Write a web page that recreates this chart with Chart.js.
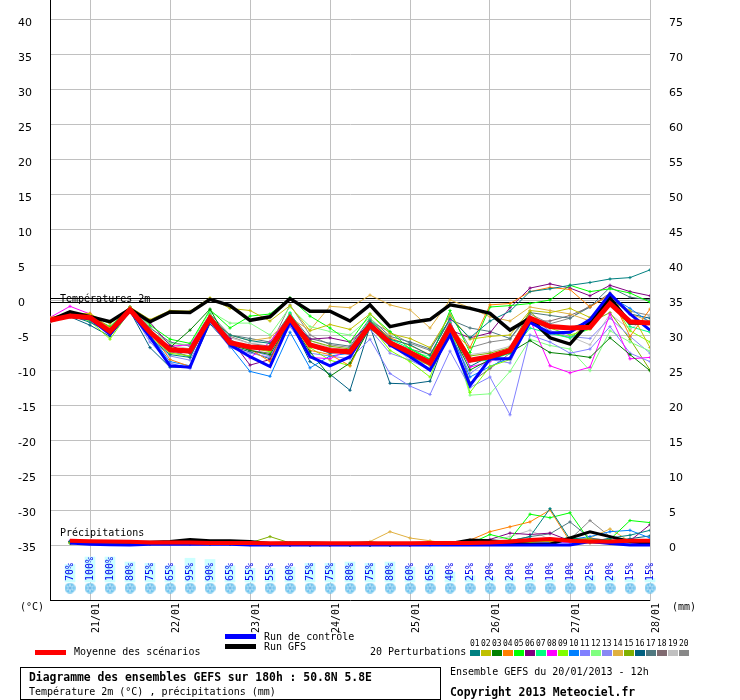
<!DOCTYPE html>
<html><head><meta charset="utf-8">
<script src="https://cdn.jsdelivr.net/npm/chart.js@4.4.1/dist/chart.umd.min.js"></script>
<style>
body{margin:0;background:#fff;}
#wrap{position:relative;width:740px;height:700px;overflow:hidden;font-family:"DejaVu Sans Mono",monospace;color:#000;background:#fff;}
canvas{position:absolute;left:0;top:0;}
.t{position:absolute;white-space:pre;font-size:10px;line-height:12px;}
.b{font-weight:bold;font-size:11.4px;line-height:14px;}
.bar{position:absolute;}
.sl{position:absolute;font-size:8px;line-height:10px;white-space:pre;}
</style></head><body><div id="wrap"><canvas id="c" width="740" height="700"></canvas></div>
<script>
// ---------- DATA ----------
const hours = [0,6,12,18,24,30,36,42,48,54,60,66,72,78,84,90,96,102,108,114,120,126,132,138,144,150,156,162,168,174,180];
const precipHours = [6,12,18,24,30,36,42,48,54,60,66,72,78,84,90,96,102,108,114,120,126,132,138,144,150,156,162,168,174,180];
const dayTicks = [12,36,60,84,108,132,156,180];
const dayLabels = ["21/01","22/01","23/01","24/01","25/01","26/01","27/01","28/01"];
const leftTicks = [-35,-30,-25,-20,-15,-10,-5,0,5,10,15,20,25,30,35,40];
const rightTicks = [0,5,10,15,20,25,30,35,40,45,50,55,60,65,70,75];

const tempMean = [-2.9,-2.3,-2.5,-4.5,-1.4,-4.6,-7.1,-7.3,-2.6,-6.1,-6.7,-6.9,-2.6,-6.4,-7.2,-7.4,-3.6,-6.1,-7.5,-9.0,-3.9,-8.6,-8.1,-7.2,-2.6,-3.8,-4.0,-3.9,-0.5,-3.1,-3.3];
const tempControl = [-2.9,-2.3,-2.7,-4.9,-1.5,-5.3,-9.4,-9.6,-2.8,-6.4,-8.1,-9.5,-3.1,-8.1,-9.4,-8.1,-3.6,-6.4,-8.1,-10.0,-5.0,-12.2,-8.4,-8.4,-3.2,-4.7,-4.6,-2.8,0.9,-2.0,-4.3];
const tempGFS = [-2.9,-1.7,-2.4,-3.1,-1.3,-3.1,-1.7,-1.8,0.1,-0.8,-2.9,-2.4,0.2,-1.6,-1.6,-3.0,-0.7,-3.8,-3.2,-2.8,-0.7,-1.2,-1.9,-4.3,-2.6,-5.4,-6.3,-3.1,0.3,-3.3,-3.3];

const tempPerturbations = [
 [-2.8,-2.2,-3.2,-4.6,-1.4,-5.4,-7.8,-8.2,-2.6,-5.0,-5.8,-6.2,-2.9,-6.6,-7.6,-7.4,-3.0,-5.6,-6.4,-7.9,-2.6,-5.4,-3.0,-1.6,1.2,1.6,2.1,2.5,3.0,3.2,4.3],
 [-2.6,-1.8,-2.0,-3.4,-1.0,-2.8,-1.5,-1.6,0.3,-1.2,-1.5,-3.0,-0.8,-4.4,-3.5,-4.2,-2.0,-4.8,-5.5,-6.8,-2.2,-5.6,-5.2,-5.0,-1.5,-1.8,-1.2,-2.5,-0.2,-1.5,-6.8],
 [-2.9,-2.3,-2.6,-4.6,-1.5,-4.8,-6.8,-4.3,-1.3,-6.4,-7.2,-7.8,-3.0,-7.4,-10.9,-9.0,-4.0,-6.5,-8.0,-9.0,-4.2,-10.0,-8.5,-7.5,-5.8,-7.5,-7.8,-8.2,-5.4,-7.8,-10.1],
 [-2.5,-2.0,-1.9,-4.0,-1.2,-4.4,-8.5,-9.5,-2.2,-5.8,-7.0,-8.8,-2.4,-7.2,-7.8,-9.4,-3.0,-5.4,-6.5,-7.8,-4.2,-6.8,-0.7,-0.5,1.2,1.8,1.5,-1.0,0.8,-5.2,-1.3],
 [-2.7,-1.9,-2.3,-3.8,-1.0,-3.6,-5.6,-6.2,-1.4,-4.0,-2.3,-2.0,0.3,-2.3,-4.0,-6.0,-2.0,-4.5,-7.0,-8.5,-1.5,-7.5,-1.0,-0.8,-0.5,0.0,2.1,1.2,1.6,1.0,-0.3],
 [-2.7,-2.1,-2.5,-4.4,-1.2,-3.2,-6.5,-7.6,-2.4,-5.5,-9.3,-8.5,-2.6,-5.6,-5.4,-6.0,-3.4,-5.8,-7.5,-8.5,-4.3,-5.4,-4.7,-1.1,1.7,2.3,1.7,0.6,2.1,1.2,0.6],
 [-2.6,-2.1,-2.4,-4.2,-1.1,-4.6,-7.2,-7.6,-2.0,-6.2,-7.0,-6.8,-1.8,-6.4,-7.4,-7.0,-2.8,-5.6,-6.9,-8.4,-3.2,-8.8,-8.6,-7.6,-4.0,-4.8,-5.4,-4.0,0.2,-3.8,-4.6],
 [-2.5,-0.9,-2.0,-4.2,-1.0,-4.8,-6.6,-6.4,-2.4,-5.6,-8.3,-6.0,-2.2,-8.2,-8.4,-7.0,-2.9,-6.6,-7.8,-9.2,-3.0,-9.6,-8.8,-7.2,-2.8,-9.4,-10.4,-9.6,-2.0,-8.4,-8.2],
 [-2.8,-2.3,-3.0,-5.6,-1.6,-5.2,-7.6,-8.0,-2.8,-6.4,-6.8,-7.4,-2.0,-6.8,-8.6,-9.4,-3.6,-7.2,-8.8,-11.0,-3.8,-13.2,-9.5,-8.5,-3.0,-4.0,-5.0,-4.2,0.3,-4.4,-6.0],
 [-2.6,-2.0,-2.2,-4.4,-1.3,-5.0,-8.8,-9.4,-3.0,-6.6,-10.2,-10.9,-4.6,-9.7,-8.0,-7.6,-3.4,-6.4,-7.6,-9.0,-4.4,-11.0,-9.5,-8.2,-2.8,-3.6,-4.0,-3.8,0.5,-1.2,-3.2],
 [-2.8,-2.0,-2.4,-4.6,-1.4,-6.0,-9.0,-9.8,-2.8,-6.0,-7.2,-8.0,-3.8,-7.6,-8.0,-8.4,-5.6,-10.5,-12.3,-13.5,-7.3,-12.5,-11.0,-16.4,-5.0,-6.0,-7.6,-7.0,-3.8,-7.6,-8.8],
 [-2.7,-2.1,-2.6,-4.4,-1.0,-4.4,-6.2,-6.4,-1.6,-3.3,-3.3,-5.0,-1.0,-3.8,-4.5,-5.0,-2.5,-6.0,-7.5,-8.0,-4.0,-13.6,-13.4,-10.2,-5.6,-6.5,-7.0,-10.1,-4.4,-6.0,-7.3],
 [-2.9,-2.4,-2.8,-4.8,-1.6,-5.5,-8.0,-8.6,-3.2,-6.8,-7.6,-8.2,-2.7,-6.4,-7.0,-7.8,-4.2,-7.6,-8.6,-10.0,-4.8,-10.5,-8.5,-9.0,-2.6,-4.4,-5.2,-5.5,-2.6,-5.2,-7.6],
 [-2.5,-1.9,-2.1,-4.0,-1.2,-4.2,-6.8,-7.0,-2.4,-5.0,-5.8,-5.4,-2.6,-4.3,-0.9,-1.1,0.7,-0.7,-1.4,-4.0,0.0,-1.1,-2.4,-3.0,-1.0,-1.5,-2.0,-3.0,0.6,-2.0,-3.0],
 [-2.7,-2.2,-2.5,-4.3,-1.3,-4.6,-7.0,-7.4,-2.5,-6.0,-6.8,-7.2,-2.4,-5.8,-6.6,-7.0,-3.6,-6.2,-8.0,-9.4,-3.4,-8.0,-7.6,-6.8,-1.6,-4.6,-5.4,-3.2,-1.8,-5.6,-10.0],
 [-2.8,-2.4,-3.6,-5.2,-1.6,-6.8,-9.6,-9.6,-3.4,-6.6,-7.4,-8.4,-3.0,-8.8,-10.6,-12.9,-3.8,-11.9,-12.0,-11.6,-4.0,-9.5,-8.0,-7.5,-2.4,-3.8,-4.0,-3.0,0.4,-2.0,-2.6],
 [-2.6,-2.0,-2.3,-4.1,-1.0,-4.0,-6.0,-6.6,-2.0,-5.0,-5.5,-6.0,-2.0,-5.5,-6.2,-6.6,-2.6,-5.2,-6.0,-7.0,-2.8,-4.0,-4.5,-5.5,-1.8,-2.2,-2.6,-1.0,1.8,0.4,0.0],
 [-2.7,-2.0,-2.2,-4.0,-1.1,-4.2,-7.0,-8.2,-2.2,-5.6,-7.2,-7.6,-2.0,-6.6,-7.2,-7.8,-3.2,-6.0,-7.0,-7.8,-2.8,-11.8,-9.8,-7.6,-3.0,-3.0,-2.2,-1.0,1.0,-1.8,-4.4],
 [-2.9,-2.3,-2.4,-3.8,-1.2,-3.8,-6.4,-7.0,-2.6,-5.4,-6.2,-6.0,-2.6,-5.8,-6.8,-7.2,-3.4,-6.2,-8.6,-9.2,-4.6,-7.8,-7.4,-6.6,-3.2,-4.6,-5.2,-6.4,-2.0,-4.2,-2.2],
 [-3.2,-2.3,-2.6,-4.2,-1.4,-4.4,-7.4,-8.0,-2.6,-5.2,-6.2,-6.6,-0.7,-5.0,-6.4,-6.8,-3.0,-4.6,-6.2,-7.2,-2.0,-6.8,-6.0,-5.6,-2.0,-3.4,-2.6,-0.8,0.6,-1.6,-2.2]
];

const precipMean = [0.6,0.55,0.5,0.45,0.35,0.35,0.35,0.3,0.3,0.3,0.25,0.25,0.25,0.25,0.25,0.25,0.25,0.25,0.3,0.3,0.3,0.35,0.5,0.7,0.85,0.6,0.5,0.5,0.6,0.6];
const precipControl = [0.3,0.1,0.05,0,0.1,0.1,0.1,0.1,0.1,0,0,0,0,0,0,0,0,0,0,0,0,0,0,0,0,0,0.5,0.2,0,0];
const precipGFS = [0.3,0.5,0.5,0.4,0.4,0.5,0.8,0.6,0.6,0.5,0.2,0.3,0.3,0.2,0.2,0.3,0.1,0.1,0.2,0.2,0.7,0.6,0.3,0.1,0.1,1.0,1.9,1.2,0.5,0.2];
const precipPerturbations = [
 [0.5,0.3,0.2,0.1,0.2,0.3,0.2,0.2,0.1,0.1,0.1,0.1,0,0.1,0.1,0,0,0.1,0.1,0.2,0.2,0.3,0.6,1.2,5.2,0.8,0.4,1.0,1.4,2.1],
 [0.4,0.3,0.3,0.2,0.2,0.2,0.2,0.1,0.1,0.1,0.1,0.1,0,0,0,0,0,0.1,0.1,0.1,0.2,0.3,0.3,0.4,0.5,0.6,0.8,0.5,0.4,0.3],
 [0.5,0.4,0.3,0.2,0.3,0.3,0.3,0.2,0.2,0.1,0.1,0.1,0.1,0.1,0,0,0,0.1,0.1,0.2,0.2,0.3,0.4,0.5,0.6,0.9,0.8,0.6,0.5,0.4],
 [0.4,0.2,0.2,0.1,0.2,0.3,0.2,0.2,0.1,0.1,0.1,0.1,0,0,0.1,0.1,0,0,0.1,0.2,0.7,1.9,2.6,3.3,5.0,0.5,0.3,0.2,0.4,0.3],
 [0.3,0.3,0.1,0.1,0.2,0.3,0.2,0.1,0.1,0.1,0,0,0.1,0.1,0,0,0,0.1,0.1,0.2,0.2,1.5,0.8,4.4,3.9,4.6,0.5,0.8,3.5,3.2],
 [0.4,0.4,0.3,0.2,0.2,0.3,0.3,0.2,0.2,0.1,0,0,0,0,0,0,0,0,0.1,0.2,0.4,0.8,1.7,1.5,1.7,0.6,0.4,0.3,0.6,2.9],
 [0.5,0.4,0.3,0.3,0.2,0.3,0.3,0.2,0.2,0.1,0.1,0.1,0.1,0,0,0,0.1,0.1,0.1,0.2,0.3,0.4,0.5,0.4,0.6,0.7,0.5,0.4,0.3,0.5],
 [0.6,0.3,0.2,0.2,0.3,0.3,0.2,0.2,0.1,0.1,0,0,0,0.1,0.1,0.1,0,0,0.1,0.1,0.2,0.2,0.3,0.4,0.5,0.4,0.7,0.3,0.2,0.3],
 [0.3,0.3,0.2,0.1,0.2,0.2,0.2,0.1,0.1,0,0,0,0,0,0,0,0,0.1,0.1,0.1,0.2,0.3,0.4,0.6,0.8,0.5,0.4,0.4,0.3,0.6],
 [0.4,0.3,0.2,0.1,0.2,0.2,0.2,0.2,0.1,0.1,0,0,0,0,0,0,0,0,0.1,0.1,0.2,0.2,0.2,0.3,0.3,0.8,1.2,1.9,2.1,1.0],
 [0.5,0.3,0.2,0.2,0.2,0.3,0.2,0.2,0.2,0.1,0.1,0,0,0,0,0,0,0.1,0.1,0.1,0.1,0.2,0.3,0.3,0.4,0.3,0.5,0.4,0.3,0.2],
 [0.4,0.3,0.3,0.2,0.3,0.3,0.3,0.2,0.2,0.1,0.1,0.1,0.1,0.1,0.1,0,0,0,0.1,0.2,0.2,0.3,0.4,0.6,0.9,1.0,0.6,0.5,0.4,0.6],
 [0.3,0.3,0.2,0.2,0.2,0.2,0.2,0.2,0.1,0.1,0,0,0,0,0,0,0,0,0,0.1,0.1,0.2,0.2,0.3,0.3,0.4,0.3,0.3,0.3,0.3],
 [0.4,0.3,0.3,0.2,0.2,0.3,0.3,0.2,0.2,0.1,0.1,0.1,0.1,0.1,0.2,0.5,1.9,1.0,0.6,0.2,0.2,0.3,0.3,0.3,0.4,0.5,1.0,2.3,0.5,0.4],
 [0.4,0.3,0.2,0.2,0.2,0.3,0.3,0.2,0.2,0.3,1.2,0.3,0.2,0.2,0.1,0.1,0.1,0.1,0.1,0.2,0.2,0.3,0.4,0.5,0.6,0.5,0.4,0.5,0.4,0.4],
 [0.5,0.4,0.3,0.2,0.2,0.3,0.3,0.2,0.2,0.1,0.1,0.1,0.1,0,0,0,0.1,0.1,0.1,0.2,0.3,0.4,0.5,0.7,0.6,0.5,0.8,0.6,0.9,1.3],
 [0.4,0.3,0.3,0.2,0.2,0.3,0.2,0.2,0.2,0.1,0,0,0,0,0,0,0,0.1,0.1,0.1,0.2,0.3,0.6,1.2,1.6,3.3,1.0,0.6,0.5,0.4],
 [0.3,0.3,0.2,0.2,0.2,0.2,0.2,0.2,0.1,0.1,0,0,0,0,0,0,0,0,0.1,0.1,0.2,0.3,0.3,0.4,0.5,0.7,0.9,0.7,0.5,0.4],
 [0.5,0.3,0.3,0.2,0.2,0.3,0.2,0.2,0.2,0.1,0.1,0.1,0.1,0.1,0,0,0,0.1,0.1,0.2,0.3,0.6,1.2,2.1,0.8,0.4,0.4,0.3,0.3,0.3],
 [0.4,0.3,0.3,0.2,0.2,0.2,0.2,0.2,0.1,0.1,0.1,0,0,0,0,0,0,0.1,0.1,0.1,0.2,0.2,0.3,0.4,0.5,0.8,3.5,1.2,0.6,0.5]
];
const snowProbability = [70,100,100,80,75,65,95,90,65,55,55,60,75,75,80,75,80,60,65,40,25,20,20,10,10,10,25,20,15,15];
const precipType = ["neige","neige","neige","neige","neige","neige","neige","neige","neige","neige","neige","neige","neige","neige","neige","neige","neige","neige","neige","neige","neige","neige","neige","neige","neige","neige","neige","neige","neige","neige"];

const memberLabels = ["01","02","03","04","05","06","07","08","09","10","11","12","13","14","15","16","17","18","19","20"];
const memberColors = ["#008080","#c0c000","#008000","#ff8000","#00ff00","#800080","#00ff80","#ff00ff","#80ff00","#0080ff","#8080ff","#80ff80","#8888f4","#e0b040","#80b000","#006080","#507880","#806a70","#c0c0c0","#888888"];

// ---------- BUILD ----------
const pts = (xs, ys) => xs.map((h,i)=>({x:h, y:ys[i]}));
const datasets = [];
datasets.push({label:'Moyenne T',data:pts(hours,tempMean),borderColor:'#ff0000',borderWidth:5,pointRadius:0,yAxisID:'y',order:0});
datasets.push({label:'Controle T',data:pts(hours,tempControl),borderColor:'#0000ff',borderWidth:3,pointRadius:0,yAxisID:'y',order:1});
datasets.push({label:'GFS T',data:pts(hours,tempGFS),borderColor:'#000000',borderWidth:3.5,pointRadius:0,yAxisID:'y',order:2});
datasets.push({label:'Moyenne P',data:pts(precipHours,precipMean),borderColor:'#ff0000',borderWidth:4,pointRadius:0,yAxisID:'y2',order:0});
datasets.push({label:'Controle P',data:pts(precipHours,precipControl),borderColor:'#0000ff',borderWidth:3,pointRadius:0,yAxisID:'y2',order:1});
datasets.push({label:'GFS P',data:pts(precipHours,precipGFS),borderColor:'#000000',borderWidth:3,pointRadius:0,yAxisID:'y2',order:2});
tempPerturbations.forEach((arr,k)=>{
  datasets.push({label:'T'+memberLabels[k],data:pts(hours,arr),borderColor:memberColors[k],backgroundColor:memberColors[k],borderWidth:1,pointStyle:'cross',pointRadius:1.6,pointBorderWidth:1,pointBorderColor:memberColors[k],yAxisID:'y',order:10+k});
});
precipPerturbations.forEach((arr,k)=>{
  datasets.push({label:'P'+memberLabels[k],data:pts(precipHours,arr),borderColor:memberColors[k],backgroundColor:memberColors[k],borderWidth:1,pointStyle:'cross',pointRadius:1.6,pointBorderWidth:1,pointBorderColor:memberColors[k],yAxisID:'y2',order:10+k});
});
datasets.push({type:'bar',label:'prob',data:pts(precipHours,snowProbability),backgroundColor:'#ccffff',borderWidth:0,barThickness:10,yAxisID:'yP',order:50,clip:false});

function makeFlake(){
  const c=document.createElement('canvas'); c.width=11; c.height=11;
  const g=c.getContext('2d');
  g.fillStyle='#70c4ee'; g.beginPath(); g.arc(5.5,5.5,5.3,0,Math.PI*2); g.fill();
  g.strokeStyle='#eaf8ff'; g.lineWidth=1;
  for(let k=0;k<3;k++){const a=k*Math.PI/3+Math.PI/2;g.beginPath();g.moveTo(5.5+4*Math.cos(a),5.5+4*Math.sin(a));g.lineTo(5.5-4*Math.cos(a),5.5-4*Math.sin(a));g.stroke();}
  g.fillStyle='#3d8fd6'; g.fillRect(4.5,4.5,2,2);
  return c;
}
const flake = makeFlake();
datasets.push({label:'type',data:precipHours.map((h,i)=>({x:h,y:0,t:precipType[i]})),showLine:false,pointStyle:flake,pointRadius:5,yAxisID:'yS',order:49,clip:false});

const FONT_MONO = '"DejaVu Sans Mono", monospace';
const extras = {
  id:'extras',
  beforeDatasetsDraw(chart){
    const {ctx, chartArea:a, scales} = chart;
    const py = Math.round(scales.y.getPixelForValue(0));
    ctx.save();
    ctx.strokeStyle='#000'; ctx.lineWidth=1;
    [py-2, py+2].forEach(v=>{ctx.beginPath();ctx.moveTo(a.left,v+0.5);ctx.lineTo(a.right,v+0.5);ctx.stroke();});
    ctx.fillStyle='#000'; ctx.font='10px '+FONT_MONO; ctx.textBaseline='alphabetic'; ctx.textAlign='left';
    ctx.fillText('Températures 2m', a.left+10, py+2);
    ctx.fillText('Précipitations', a.left+10, Math.round(scales.y2.getPixelForValue(0))-9);
    ctx.restore();
  },
  afterDatasetsDraw(chart){
    const {ctx, scales} = chart;
    const idx = chart.data.datasets.findIndex(d=>d.label==='prob');
    const meta = chart.getDatasetMeta(idx);
    const base = scales.yP.getPixelForValue(0);
    ctx.save();
    ctx.fillStyle='#0000f0'; ctx.font='10px '+FONT_MONO; ctx.textAlign='left'; ctx.textBaseline='middle';
    meta.data.forEach((el,i)=>{
      ctx.save(); ctx.translate(Math.round(el.x)+0.5, base-1); ctx.rotate(-Math.PI/2);
      ctx.fillText(snowProbability[i]+'%', 0, 0); ctx.restore();
    });
    ctx.restore();
  }
};
const noPad = s => { s.paddingTop=0; s.paddingBottom=0; s.paddingLeft=0; s.paddingRight=0; };

new Chart(document.getElementById('c'), {
  type:'line',
  data:{datasets},
  plugins:[extras],
  options:{
    responsive:false, animation:false, devicePixelRatio:1,
    layout:{autoPadding:false,padding:{left:18,right:0,top:0,bottom:0}},
    elements:{line:{tension:0}},
    plugins:{legend:{display:false},tooltip:{enabled:false}},
    scales:{
      x:{type:'linear',min:0,max:180,position:'bottom',offset:false,
        afterBuildTicks:s=>{s.ticks=dayTicks.map(v=>({value:v}));},
        afterFit:s=>{s.height=100; noPad(s);},
        grid:{color:'#c0c0c0',lineWidth:1,drawTicks:false,offset:false},
        border:{color:'#000',width:1},
        ticks:{autoSkip:false,minRotation:90,maxRotation:90,padding:3,labelOffset:6,color:'#000',font:{family:'DejaVu Sans Mono',size:10},callback:(v,i)=>dayLabels[i]}
      },
      y:{position:'left',min:-300/7,max:300/7,
        afterBuildTicks:s=>{s.ticks=leftTicks.map(v=>({value:v}));},
        afterFit:s=>{s.width=32; noPad(s);},
        grid:{color:'#c0c0c0',lineWidth:1,drawTicks:false},
        border:{color:'#000',width:1},
        ticks:{crossAlign:'far',labelOffset:3,color:'#000',font:{family:'DejaVu Sans',size:11}}
      },
      y2:{position:'right',min:-300/7+35,max:300/7+35,
        afterBuildTicks:s=>{s.ticks=rightTicks.map(v=>({value:v}));},
        afterFit:s=>{s.width=90; noPad(s);},
        grid:{color:'rgba(0,0,0,0)',drawTicks:false},
        border:{color:'#c0c0c0',width:1},
        ticks:{crossAlign:'near',padding:19,labelOffset:3,color:'#000',font:{family:'DejaVu Sans',size:11}}
      },
      yP:{display:false,min:-72,max:2328},
      yS:{display:false,min:-12,max:588}
    }
  }
});

// ---------- HTML legend ----------
const wrap = document.getElementById('wrap');
function add(cls, html, css){const d=document.createElement('div');d.className=cls;d.innerHTML=html;Object.assign(d.style,css);wrap.appendChild(d);return d;}
add('t','(°C)',{left:'20px',top:'601px'});
add('t','(mm)',{left:'672px',top:'601px'});
add('bar','',{left:'35px',top:'650px',width:'31px',height:'5px',background:'#ff0000'});
add('t','Moyenne des scénarios',{left:'74px',top:'646px'});
add('bar','',{left:'225px',top:'634px',width:'31px',height:'5px',background:'#0000ff'});
add('bar','',{left:'225px',top:'644px',width:'31px',height:'5px',background:'#000000'});
add('t','Run de contrôle',{left:'264px',top:'631px'});
add('t','Run GFS',{left:'264px',top:'641px'});
add('t','20 Perturbations',{left:'370px',top:'646px'});
memberLabels.forEach((lab,k)=>{
  add('sl',lab,{left:(470+k*11)+'px',top:'639px'});
  add('bar','',{left:(470+k*11)+'px',top:'650px',width:'10px',height:'6px',background:memberColors[k]});
});
add('bar','',{left:'20px',top:'667px',width:'421px',height:'33px',border:'1px solid #000',boxSizing:'border-box'});
add('t b','Diagramme des ensembles GEFS sur 180h : 50.8N 5.8E',{left:'29px',top:'670px'});
add('t','Température 2m (°C) , précipitations (mm)',{left:'29px',top:'686px'});
add('t','Ensemble GEFS du 20/01/2013 - 12h',{left:'450px',top:'666px'});
add('t b','Copyright 2013 Meteociel.fr',{left:'450px',top:'685px'});
</script>
</body></html>
